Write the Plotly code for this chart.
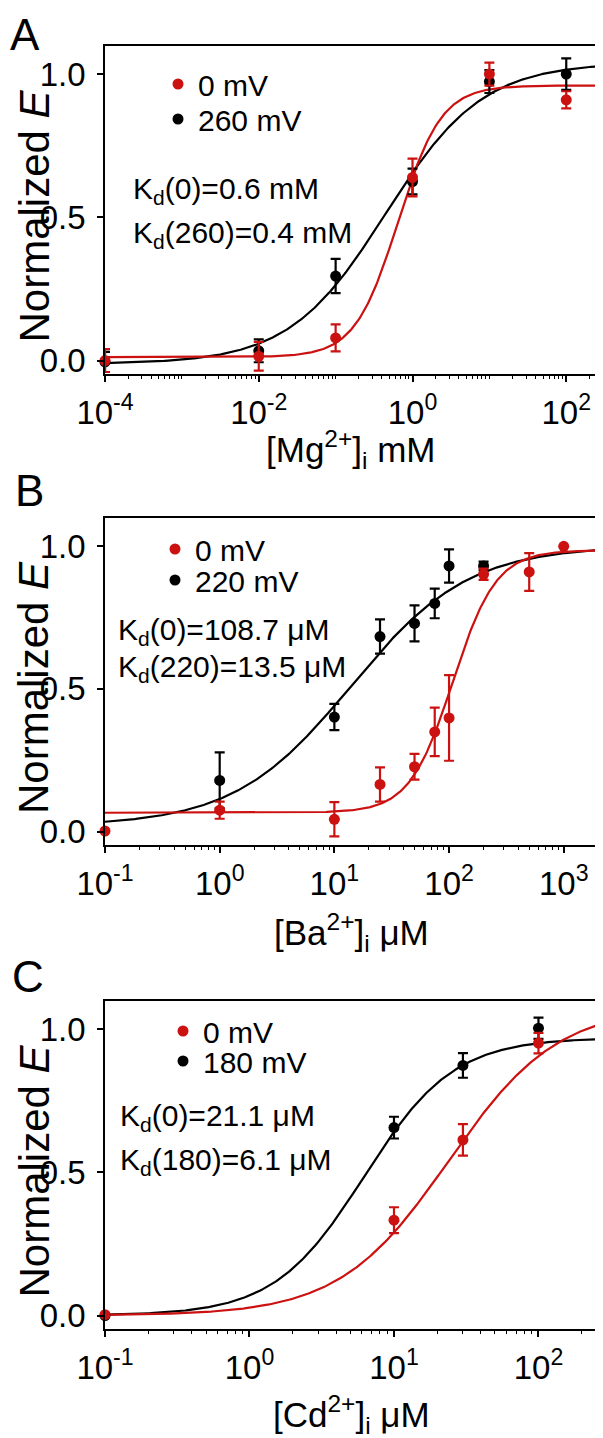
import numpy as np
import plotly.graph_objects as go

RED = "#cc1111"
BLACK = "#000000"
FONT = "Liberation Sans, Arial, sans-serif"

# ---------------- Panel A: Mg2+ (mM) ----------------
mg_x_red = [1e-4, 1e-2, 1e-1, 1, 10, 100]
mg_y_red = [0.0, 0.015, 0.079, 0.639, 1.0, 0.91]
mg_e_red = [0.04, 0.05, 0.047, 0.066, 0.04, 0.03]
mg_x_blk = [1e-4, 1e-2, 1e-1, 1, 10, 100]
mg_y_blk = [-0.005, 0.034, 0.295, 0.625, 0.974, 1.0]
mg_e_blk = [0.035, 0.04, 0.06, 0.045, 0.04, 0.055]
# Hill fit parameters: bottom, top, K, n
mg_fit_red = [0.012, 0.96, 0.65, 1.55]
mg_fit_blk = [-0.012, 1.04, 0.45, 0.69]

# ---------------- Panel B: Ba2+ (uM) ----------------
ba_x_red = [0.1, 1, 10, 25, 50, 75, 100, 200, 500, 1000]
ba_y_red = [0.002, 0.075, 0.043, 0.165, 0.227, 0.349, 0.398, 0.901, 0.909, 0.999]
ba_e_red = [0.0, 0.03, 0.06, 0.06, 0.045, 0.085, 0.15, 0.02, 0.066, 0.0]
ba_x_blk = [1, 10, 25, 50, 75, 100, 200]
ba_y_blk = [0.179, 0.401, 0.683, 0.729, 0.799, 0.930, 0.930]
ba_e_blk = [0.098, 0.046, 0.06, 0.063, 0.052, 0.058, 0.015]
ba_fit_red = [0.066, 0.985, 108.0, 2.3]
ba_fit_blk = [0.02, 1.0, 14.0, 0.85]

# ---------------- Panel C: Cd2+ (uM) ----------------
cd_x_red = [0.1, 10, 30, 100]
cd_y_red = [0.003, 0.333, 0.613, 0.951]
cd_e_red = [0.0, 0.045, 0.055, 0.036]
cd_x_blk = [0.1, 10, 30, 100]
cd_y_blk = [0.0, 0.656, 0.873, 1.003]
cd_e_blk = [0.0, 0.038, 0.043, 0.037]
cd_fit_red = [0.0, 1.08, 23.9, 1.15]
cd_fit_blk = [0.0, 0.97, 6.2, 1.4]

x_ranges = [[-4, 2.4], [-1, 3.29], [-1, 2.405]]
y_range = [-0.047, 1.098]

x_titles = ["[Mg<sup>2+</sup>]<sub>i</sub> mM",
            "[Ba<sup>2+</sup>]<sub>i</sub> μM",
            "[Cd<sup>2+</sup>]<sub>i</sub> μM"]
y_title = "Normalized <i>E</i>"
major_exps = [[-4, -2, 0, 2], [-1, 0, 1, 2, 3], [-1, 0, 1, 2]]
legend_labels = [["0 mV", "260 mV"], ["0 mV", "220 mV"], ["0 mV", "180 mV"]]
kd_texts = [["K<sub>d</sub>(0)=0.6 mM", "K<sub>d</sub>(260)=0.4 mM"],
            ["K<sub>d</sub>(0)=108.7 μM", "K<sub>d</sub>(220)=13.5 μM"],
            ["K<sub>d</sub>(0)=21.1 μM", "K<sub>d</sub>(180)=6.1 μM"]]
panel_letters = ["A", "B", "C"]


def hill(x, p):
    b, t, k, n = p
    x = np.asarray(x)
    return b + (t - b) * x ** n / (k ** n + x ** n)


panels = [
    (mg_x_red, mg_y_red, mg_e_red, mg_x_blk, mg_y_blk, mg_e_blk, mg_fit_red, mg_fit_blk),
    (ba_x_red, ba_y_red, ba_e_red, ba_x_blk, ba_y_blk, ba_e_blk, ba_fit_red, ba_fit_blk),
    (cd_x_red, cd_y_red, cd_e_red, cd_x_blk, cd_y_blk, cd_e_blk, cd_fit_red, cd_fit_blk),
]

# Page geometry: the html body has an 8px default margin, so the figure is
# made 8px smaller and all page-pixel positions are converted accordingly.
PAGE_W, PAGE_H, BODY = 603, 1438, 8
W, H = PAGE_W - BODY, PAGE_H - BODY
BOX_L, BOX_R = 105, 597
boxes = [(46, 374), (518, 845), (1001, 1329)]
ML, MR = BOX_L - BODY, PAGE_W - BOX_R
MT, MB = boxes[0][0] - BODY, PAGE_H - boxes[2][1]
plot_h = H - MT - MB


def py2paper(py):
    return (boxes[2][1] - py) / plot_h


def px2paper(px):
    return (px - BOX_L) / (BOX_R - BOX_L)


legend_pos = [  # (text start px, red row center py, black row center py)
    (200, 84, 119), (197, 549, 580), (205, 1031, 1061)]
kd_pos = [(131, 186, 230), (116, 627, 664), (118, 1113, 1157)]
# (left px, y px, yanchor)
letter_pos = [(BODY, BODY, "top"), (13, 491, "middle"), (10, 976, "middle")]
xtitle_pos = [(351, 450), (351, 932), (351, 1414)]

fig = go.Figure()
layout = dict(
    width=W, height=H,
    margin=dict(l=ML, r=MR, t=MT, b=MB, autoexpand=False),
    paper_bgcolor="white", plot_bgcolor="white",
    font=dict(family=FONT, size=30, color="black"),
    showlegend=True,
    annotations=[],
)

for i, (xr, yr, er, xb, yb, eb, pr, pb) in enumerate(panels):
    sfx = "" if i == 0 else str(i + 1)
    xa, ya = "x" + sfx, "y" + sfx
    lo, hi = x_ranges[i]
    xx = np.logspace(lo, hi, 400)
    fig.add_trace(go.Scatter(x=xx, y=hill(xx, pb), mode="lines",
                             line=dict(color=BLACK, width=2.2), xaxis=xa, yaxis=ya,
                             showlegend=False, hoverinfo="skip"))
    fig.add_trace(go.Scatter(x=xx, y=hill(xx, pr), mode="lines",
                             line=dict(color=RED, width=2.2), xaxis=xa, yaxis=ya,
                             showlegend=False, hoverinfo="skip"))
    lg_r = "legend" if i == 0 else "legend" + str(2 * i + 1)
    lg_b = "legend" + str(2 * i + 2)
    fig.add_trace(go.Scatter(x=xb, y=yb, mode="markers", name=legend_labels[i][1],
                             marker=dict(color=BLACK, size=11),
                             error_y=dict(type="data", array=eb, color=BLACK,
                                          thickness=2.2, width=5),
                             cliponaxis=False, xaxis=xa, yaxis=ya, legend=lg_b))
    fig.add_trace(go.Scatter(x=xr, y=yr, mode="markers", name=legend_labels[i][0],
                             marker=dict(color=RED, size=11),
                             error_y=dict(type="data", array=er, color=RED,
                                          thickness=2.2, width=5),
                             cliponaxis=False, xaxis=xa, yaxis=ya, legend=lg_r))

    top, bot = boxes[i]
    dom = [py2paper(bot), py2paper(top)]
    minor_vals = [m * 10.0 ** e for e in range(int(np.floor(lo)), int(np.ceil(hi)) + 1)
                  for m in range(1, 10)
                  if lo <= np.log10(m * 10.0 ** e) <= hi and
                  not (m == 1 and e in major_exps[i])]
    layout["xaxis" + sfx] = dict(
        type="log", range=[lo, hi], anchor=ya, domain=[0, 1], automargin=False,
        showline=True, linecolor="black", linewidth=1.5, mirror=True,
        ticks="outside", ticklen=6, tickwidth=1.5, tickcolor="black",
        tickmode="array", tickvals=[10.0 ** e for e in major_exps[i]],
        ticktext=["10<sup>%d</sup>" % e for e in major_exps[i]],
        tickfont=dict(size=33), ticklabelstandoff=3, showgrid=False, zeroline=False,
        minor=dict(tickmode="array", tickvals=minor_vals, ticks="outside",
                   ticklen=3, tickwidth=1.2, tickcolor="black", showgrid=False),
    )
    layout["yaxis" + sfx] = dict(
        range=y_range, anchor=xa, domain=dom, automargin=False,
        showline=True, linecolor="black", linewidth=1.5, mirror=True,
        ticks="outside", ticklen=6, tickwidth=1.5, tickcolor="black",
        tickmode="array", tickvals=[0, 0.5, 1.0], ticktext=["0.0", "0.5", "1.0"],
        tickfont=dict(size=33), ticklabelstandoff=5, showgrid=False, zeroline=False,
    )
    # axis titles
    tx_, ty_ = xtitle_pos[i]
    layout["annotations"].append(dict(
        text=x_titles[i], xref="paper", yref="paper", x=px2paper(tx_), y=py2paper(ty_),
        xanchor="center", yanchor="middle", showarrow=False, font=dict(size=35)))
    layout["annotations"].append(dict(
        text=y_title, xref="paper", yref="paper", x=px2paper(BODY),
        y=py2paper((top + bot) / 2 + 6), xanchor="left", yanchor="middle",
        textangle=-90, showarrow=False, font=dict(size=42)))
    # legends
    tx, ry, by = legend_pos[i]
    for lg, cy in ((lg_r, ry), (lg_b, by)):
        layout[lg] = dict(x=px2paper(tx - 42), y=py2paper(cy), xanchor="left",
                          yanchor="middle", bgcolor="rgba(0,0,0,0)",
                          font=dict(size=30), borderwidth=0)
    # Kd annotations
    kx, k1, k2 = kd_pos[i]
    for txt, cy in ((kd_texts[i][0], k1), (kd_texts[i][1], k2)):
        layout["annotations"].append(dict(
            text=txt, xref="paper", yref="paper", x=px2paper(kx), y=py2paper(cy + 4),
            xanchor="left", yanchor="middle", showarrow=False, font=dict(size=30)))
    lx, ly, lya = letter_pos[i]
    layout["annotations"].append(dict(
        text=panel_letters[i], xref="paper", yref="paper", x=px2paper(lx), y=py2paper(ly),
        xanchor="left", yanchor=lya, showarrow=False, font=dict(size=44)))

fig.update_layout(**layout)
fig.write_html("out.html")
